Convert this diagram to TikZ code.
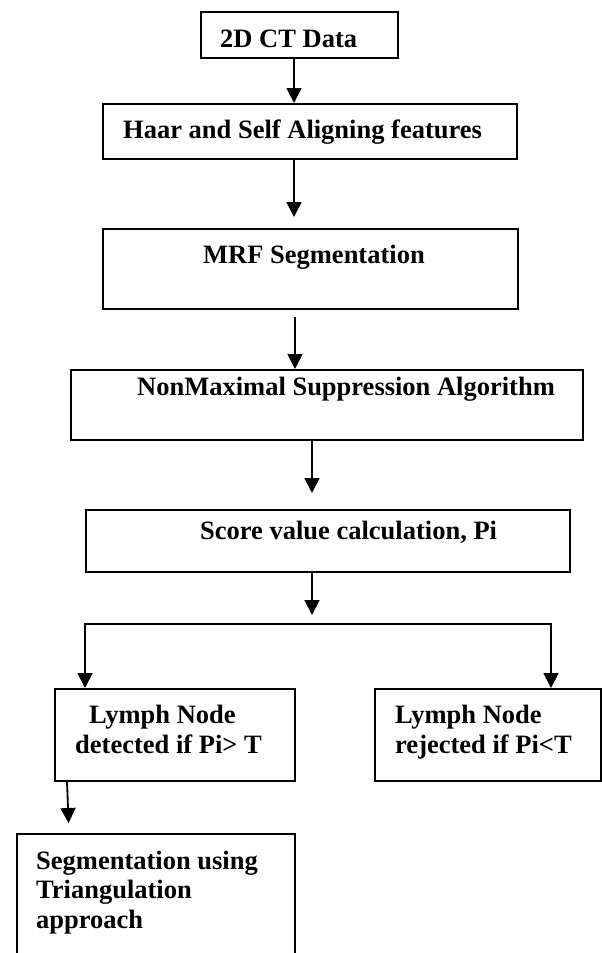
\documentclass[tikz,border=0pt]{standalone}
\usepackage{fontspec}
\setmainfont{Liberation Serif}
\usetikzlibrary{arrows.meta,calc}
\begin{document}
\begin{tikzpicture}[x=1pt,y=-1pt,
  box/.style={draw, line width=1.8pt, inner sep=0pt, anchor=north west},
  txt/.style={anchor=base west, inner sep=0pt, font=\fontsize{26.5}{30}\selectfont\bfseries},
  tip/.style={Triangle[width=15pt,length=15pt]},
  arr/.style={line width=1.8pt, -{Triangle[width=15pt,length=15pt]}}]
\useasboundingbox (0,0) rectangle (602,953);
\clip (0,0) rectangle (602,953);

% process boxes
\node[box, minimum width=197pt, minimum height=46pt]  (b1) at (200,11) {};
\node[box, minimum width=414pt, minimum height=55pt]  (b2) at (102,103) {};
\node[box, minimum width=415pt, minimum height=80pt]  (b3) at (102,228) {};
\node[box, minimum width=512pt, minimum height=70pt]  (b4) at (70,369) {};
\node[box, minimum width=484pt, minimum height=62pt]  (b5) at (85,509) {};
\node[box, minimum width=240pt, minimum height=92pt]  (lnode) at (54,688) {};
\node[box, minimum width=226pt, minimum height=92pt]  (rnode) at (374,688) {};
\node[box, minimum width=278pt, minimum height=150pt] (seg) at (16,833) {};

% box texts
\node[txt] (t1) at (220,47) {2D CT Data};
\node[txt] (t2) at (123,138) {Haar and Self Aligning features};
\node[txt] (t3) at (203,263) {MRF Segmentation};
\node[txt] (t4) at (137,395) {NonMaximal Suppression Algorithm};
\node[txt] (t5) at (200,539) {Score value calculation, Pi};
\node[txt] (t6a) at (89,723) {Lymph Node};
\node[txt] (t6b) at (75,753) {detected if Pi> T};
\node[txt] (t7a) at (395,723) {Lymph Node};
\node[txt] (t7b) at (395,753) {rejected if Pi<T};
\node[txt] (t8a) at (36,869) {Segmentation using};
\node[txt] (t8b) at (36,898) {Triangulation};
\node[txt] (t8c) at (36,928) {approach};

% connectors
\draw[arr] (b1.south -| 294,0) -- (b2.north -| 294,0);
\draw[arr, shorten >=11pt] (b2.south -| 294,0) -- (b3.north -| 294,0);
\draw[arr, shorten <=7pt] (b3.south -| 295,0) -- (b4.north -| 295,0);
\draw[arr, shorten >=16pt] (b4.south -| 312,0) -- (b5.north -| 312,0);

\coordinate (fork) at (312,624);
\coordinate (forkl) at (85,624);
\coordinate (forkr) at (551,624);
\draw[arr, shorten >=9pt] (b5.south -| fork) -- (fork);
\draw[line width=1.8pt, {Triangle[width=15pt,length=15pt]}-{Triangle[width=15pt,length=15pt]}]
  (lnode.north -| forkl) -- (forkl) -- (forkr) -- (rnode.north -| forkr);

\draw[arr, shorten >=10pt] (lnode.south -| 67,0) -- (seg.north -| 69,0);
\end{tikzpicture}
\end{document}
